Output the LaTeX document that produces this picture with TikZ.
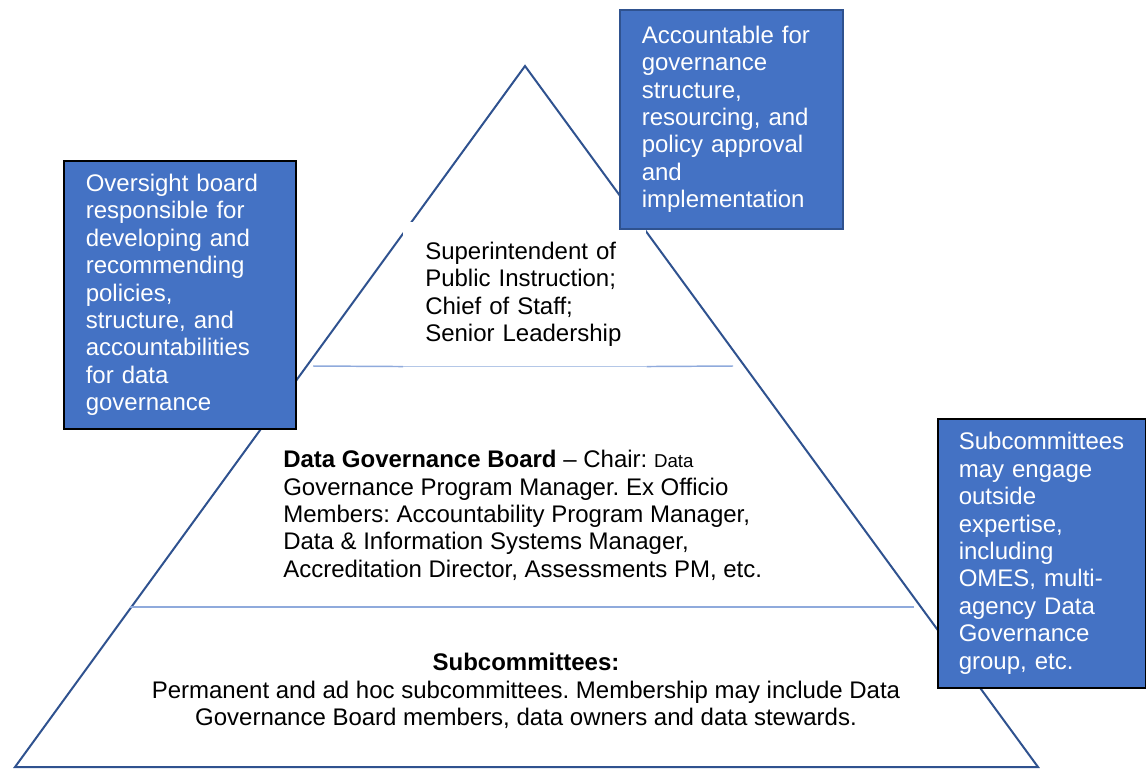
\documentclass[tikz,border=0pt]{standalone}
\usepackage{fontspec}
\setmainfont{Liberation Sans}
\usetikzlibrary{positioning}
\definecolor{boxblue}{HTML}{4472C4}
\definecolor{edgeblue}{HTML}{2F528F}
\definecolor{splitblue}{HTML}{8FAADC}
\definecolor{splitpale}{HTML}{B4C7E7}
\frenchspacing

\begin{document}
\begin{tikzpicture}[x=0.75pt,y=-0.75pt,
        every node/.style={font=\fontsize{18}{20.55}\selectfont},
        bluebox/.style={draw=black, line width=1.2pt, fill=boxblue, text=white, anchor=north west, align=left, inner xsep=16.5pt, inner ysep=0pt},
        tiertext/.style={inner sep=0pt, align=left}]
    \useasboundingbox (0,0) rectangle (1146,769);

    % pyramid
    \coordinate (apex) at (525,66);
    \coordinate (bl) at (15,767);
    \coordinate (br) at (1038,767);
    \draw[edgeblue, line width=1.5pt] (apex) -- (br) -- (bl) -- cycle;

    \node[fill=white, anchor=north west, align=left, inner xsep=16.5pt, inner ysep=0pt,
          minimum width=182.25pt, minimum height=108pt, text width=149.25pt] (lead) at (403,222)
        {Superintendent of\\ Public Instruction;\\ Chief of Staff;\\ Senior Leadership};
    \coordinate (s1l) at (313,366);
    \coordinate (s1r) at (733,366);
    \draw[splitblue, line width=1.1pt] (s1l) -- (lead.south west) (lead.south east) -- (s1r);
    \draw[splitpale, line width=1.1pt] (lead.south west) -- (lead.south east);

    \coordinate (s2l) at (130,607);
    \coordinate (s2r) at (914,607);
    \draw[splitblue, line width=1.2pt] (s2l) -- (s2r);

    \node[tiertext, anchor=north west] (board) at (283,450)
        {\textbf{Data Governance Board} \textendash{} Chair: {\fontsize{14}{20.55}\selectfont Data}\\
         Governance Program Manager. Ex Officio\\
         Members: Accountability Program Manager,\\
         Data \& Information Systems Manager,\\
         Accreditation Director, Assessments PM, etc.};
    \node[tiertext, align=center, anchor=north] (subs) at (526,653)
        {\textbf{Subcommittees:}\\
         Permanent and ad hoc subcommittees. Membership may include Data\\
         Governance Board members, data owners and data stewards.};

    % side notes
    \node[bluebox, draw=edgeblue, minimum width=167.25pt, minimum height=164.25pt, text width=134.25pt] (acct) at (619,9)
        {Accountable for\\ governance\\ structure,\\ resourcing, and\\ policy approval\\ and\\ implementation};
    \node[bluebox, minimum width=174pt, minimum height=201pt, text width=141pt] (oversight) at (63,160)
        {Oversight board\\ responsible for\\ developing and\\ recommending\\ policies,\\ structure, and\\ accountabilities\\ for data\\ governance};
    \node[bluebox, inner xsep=15.75pt, minimum width=156pt, minimum height=201.75pt, text width=124.5pt] (outside) at (937,418)
        {Subcommittees\\ may engage\\ outside\\ expertise,\\ including\\ OMES, multi-\\ agency Data\\ Governance\\ group, etc.};
\end{tikzpicture}
\end{document}
